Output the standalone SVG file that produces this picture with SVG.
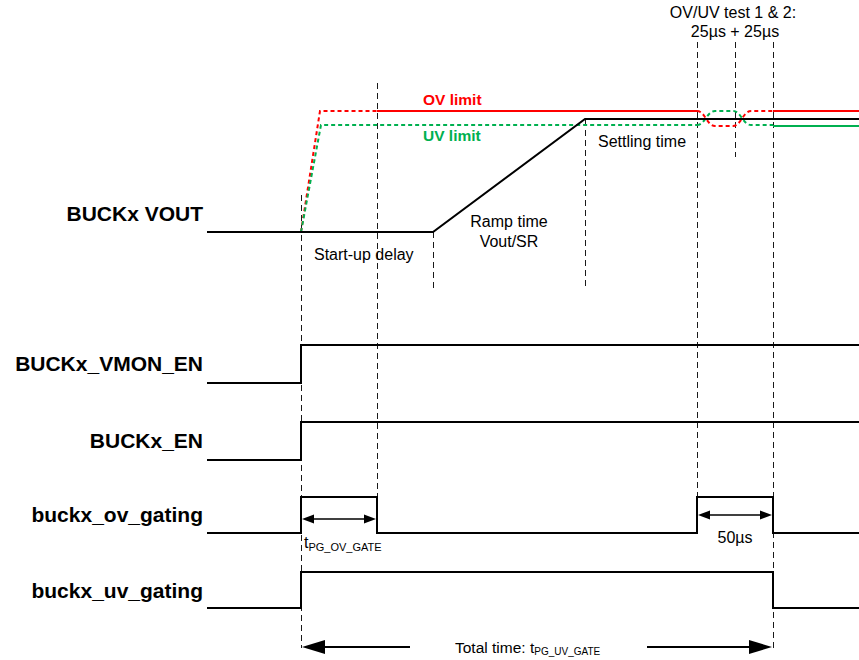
<svg xmlns="http://www.w3.org/2000/svg" width="859" height="660" viewBox="0 0 859 660">
<style>
.sig{fill:none;stroke:#000;stroke-width:2}
.guide{fill:none;stroke:#1a1a1a;stroke-width:1;stroke-dasharray:6,4}
.lbl{font-family:"Liberation Sans",Arial,sans-serif;font-weight:bold;font-size:21px;fill:#000;text-anchor:end}
.txt{font-family:"Liberation Sans",Arial,sans-serif;font-size:16px;fill:#000}
.ov{fill:none;stroke:#ff0000;stroke-width:2}
.uv{fill:none;stroke:#00b050;stroke-width:2}
.dsh{stroke-dasharray:4,3}
.lim{font-family:"Liberation Sans",Arial,sans-serif;font-weight:bold;font-size:15.5px}
.ah{fill:#000}
</style>
<rect width="859" height="660" fill="#fff"/>
<g id="guides">
<line class="guide" x1="301.5" y1="195" x2="301.5" y2="648"/>
<line class="guide" x1="377.5" y1="83" x2="377.5" y2="497"/>
<line class="guide" x1="433.5" y1="232" x2="433.5" y2="290"/>
<line class="guide" x1="585.5" y1="120" x2="585.5" y2="290"/>
<line class="guide" x1="697.5" y1="42" x2="697.5" y2="497"/>
<line class="guide" x1="735.5" y1="42" x2="735.5" y2="157"/>
<line class="guide" x1="773.5" y1="42" x2="773.5" y2="648"/>
</g>
<g id="limits">
<polyline class="ov dsh" points="301,232 320,111 377,111"/>
<line class="ov" x1="377" y1="111" x2="697" y2="111"/>
<path class="ov dsh" d="M697,111 C705,111 707,126 715,126 L733,126 C741,126 743,111 751,111 L773,111"/>
<line class="ov" x1="773" y1="111" x2="859" y2="111"/>
<polyline class="uv dsh" points="301,232 321,125 697,125"/>
<path class="uv dsh" d="M697,125 C705,125 707,111 715,111 L733,111 C741,111 743,125 751,125 L773,125"/>
<line class="uv" x1="773" y1="126" x2="859" y2="126"/>
<text class="lim" x="423" y="105" fill="#ff0000">OV limit</text>
<text class="lim" x="423" y="141" fill="#00b050">UV limit</text>
</g>
<g id="vout">
<text class="lbl" x="203" y="221">BUCKx VOUT</text>
<polyline class="sig" points="207,232 433,232 585,119 859,119"/>
</g>
<g id="vmon_en">
<text class="lbl" x="203" y="371">BUCKx_VMON_EN</text>
<polyline class="sig" points="207,383 301,383 301,345 859,345"/>
</g>
<g id="en">
<text class="lbl" x="203" y="448">BUCKx_EN</text>
<polyline class="sig" points="207,460 301,460 301,422 859,422"/>
</g>
<g id="ov_gating">
<text class="lbl" x="203" y="522">buckx_ov_gating</text>
<polyline class="sig" points="207,533 301,533 301,497 377,497 377,533 697,533 697,497 773,497 773,533 859,533"/>
</g>
<g id="uv_gating">
<text class="lbl" x="203" y="598">buckx_uv_gating</text>
<polyline class="sig" points="207,608 301,608 301,572 773,572 773,608 859,608"/>
</g>
<g id="annotations">
<text class="txt" x="314" y="260">Start-up delay</text>
<text class="txt" x="509" y="227" text-anchor="middle">Ramp time</text>
<text class="txt" x="509" y="247" text-anchor="middle">Vout/SR</text>
<text class="txt" x="598" y="147">Settling time</text>
<text class="txt" x="733" y="18" text-anchor="middle">OV/UV test 1 &amp; 2:</text>
<text class="txt" x="735" y="37" text-anchor="middle">25µs + 25µs</text>
</g>
<g id="connectors">
<line x1="312" y1="519" x2="366" y2="519" stroke="#000" stroke-width="1.5"/>
<polygon class="ah" points="302,519 314,514.5 314,523.5"/>
<polygon class="ah" points="376,519 364,514.5 364,523.5"/>
<text x="304" y="548" font-family="'Liberation Sans',Arial,sans-serif" font-size="16">t<tspan font-size="11" dy="3">PG_OV_GATE</tspan></text>
<line x1="708" y1="515" x2="762" y2="515" stroke="#000" stroke-width="1.5"/>
<polygon class="ah" points="698,515 710,510.5 710,519.5"/>
<polygon class="ah" points="772,515 760,510.5 760,519.5"/>
<text class="txt" x="735" y="543" text-anchor="middle">50µs</text>
<line x1="318" y1="647" x2="410" y2="647" stroke="#000" stroke-width="2"/>
<polygon class="ah" points="302,647 325,640 325,654"/>
<line x1="647" y1="647" x2="756" y2="647" stroke="#000" stroke-width="2"/>
<polygon class="ah" points="772,647 749,640 749,654"/>
<text x="455" y="653" font-family="'Liberation Sans',Arial,sans-serif" font-size="15.5">Total time: t<tspan font-size="10" dy="2">PG_UV_GATE</tspan></text>
</g>
</svg>
